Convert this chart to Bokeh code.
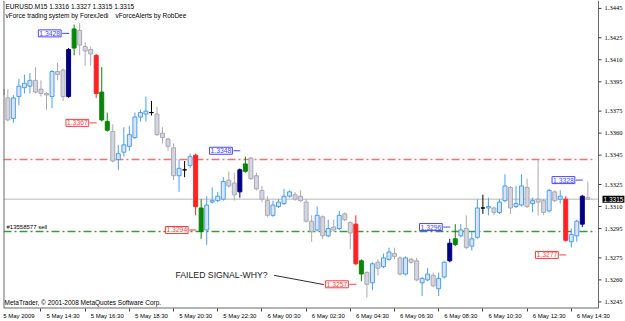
from bokeh.plotting import figure
from bokeh.models import (Range1d, LinearAxis, FixedTicker, Label, ColumnDataSource)
from bokeh.embed import file_html
from bokeh.resources import INLINE

# ---------------- data (EURUSD M15) ----------------
symbol = "EURUSD.M15"
opens = [1.3390, 1.3384, 1.3370, 1.3385, 1.3391, 1.3392, 1.3396, 1.3390, 1.3387, 1.3385,
         1.3402, 1.3403, 1.3385, 1.3418, 1.3430, 1.3419, 1.3417, 1.3413, 1.3388, 1.3368,
         1.3361, 1.3342, 1.3347, 1.3351, 1.3357, 1.3371, 1.3373, 1.3374, 1.3373, 1.3360,
         1.3356, 1.3350, 1.3331, 1.3335, 1.3338, 1.3345, 1.3309, 1.3294, 1.3313, 1.3314,
         1.3315, 1.3328, 1.3326, 1.3320, 1.3334, 1.3343, 1.3331, 1.3321, 1.3314, 1.3304,
         1.3310, 1.3312, 1.3317, 1.3318, 1.3317, 1.3313, 1.3300, 1.3294, 1.3303, 1.3290,
         1.3296, 1.3295, 1.3305, 1.3299, 1.3298, 1.3273, 1.3265, 1.3258, 1.3272, 1.3269,
         1.3274, 1.3278, 1.3275, 1.3264, 1.3274, 1.3273, 1.3258, 1.3260, 1.3263, 1.3254,
         1.3262, 1.3273, 1.3284, 1.3290, 1.3295, 1.3283, 1.3289, 1.3309, 1.3309, 1.3309,
         1.3306, 1.3314, 1.3323, 1.3310, 1.3311, 1.3323, 1.3312, 1.3315, 1.3314, 1.3307,
         1.3320, 1.3315, 1.3315, 1.3286, 1.3290, 1.3298, 1.3316]
highs = [1.3396, 1.3390, 1.3386, 1.3397, 1.3400, 1.3401, 1.3405, 1.3396, 1.3388, 1.3403,
         1.3408, 1.3404, 1.3418, 1.3434, 1.3435, 1.3422, 1.3419, 1.3414, 1.3405, 1.3374,
         1.3366, 1.3352, 1.3364, 1.3365, 1.3374, 1.3376, 1.3385, 1.3382, 1.3378, 1.3364,
         1.3357, 1.3353, 1.3342, 1.3341, 1.3346, 1.3346, 1.3315, 1.3317, 1.3323, 1.3320,
         1.3330, 1.3334, 1.3333, 1.3336, 1.3344, 1.3344, 1.3333, 1.3324, 1.3317, 1.3314,
         1.3315, 1.3322, 1.3321, 1.3320, 1.3321, 1.3315, 1.3304, 1.3310, 1.3304, 1.3301,
         1.3301, 1.3307, 1.3306, 1.3300, 1.3304, 1.3274, 1.3266, 1.3272, 1.3274, 1.3278,
         1.3282, 1.3282, 1.3276, 1.3276, 1.3275, 1.3275, 1.3262, 1.3268, 1.3265, 1.3265,
         1.3273, 1.3288, 1.3298, 1.3298, 1.3304, 1.3293, 1.3315, 1.3318, 1.3316, 1.3310,
         1.3315, 1.3332, 1.3324, 1.3324, 1.3332, 1.3329, 1.3316, 1.3342, 1.3315, 1.3322,
         1.3321, 1.3321, 1.3317, 1.3295, 1.3301, 1.3318, 1.3327]
lows = [1.3383, 1.3368, 1.3367, 1.3379, 1.3387, 1.3387, 1.3387, 1.3385, 1.3376, 1.3377,
        1.3396, 1.3382, 1.3384, 1.3413, 1.3413, 1.3406, 1.3406, 1.3384, 1.3368, 1.3361,
        1.3340, 1.3335, 1.3344, 1.3348, 1.3356, 1.3368, 1.3368, 1.3372, 1.3358, 1.3353,
        1.3348, 1.3328, 1.3320, 1.3330, 1.3336, 1.3304, 1.3288, 1.3284, 1.3312, 1.3313,
        1.3314, 1.3323, 1.3314, 1.3316, 1.3333, 1.3328, 1.3321, 1.3313, 1.3303, 1.3303,
        1.3309, 1.3311, 1.3316, 1.3314, 1.3313, 1.3299, 1.3286, 1.3293, 1.3288, 1.3289,
        1.3293, 1.3294, 1.3300, 1.3281, 1.3270, 1.3259, 1.3248, 1.3253, 1.3263, 1.3268,
        1.3273, 1.3274, 1.3263, 1.3263, 1.3271, 1.3259, 1.3249, 1.3259, 1.3255, 1.3249,
        1.3261, 1.3272, 1.3283, 1.3289, 1.3281, 1.3280, 1.3288, 1.3305, 1.3304, 1.3304,
        1.3305, 1.3313, 1.3305, 1.3309, 1.3310, 1.3309, 1.3306, 1.3304, 1.3304, 1.3306,
        1.3313, 1.3312, 1.3286, 1.3282, 1.3286, 1.3296, 1.3315]
closes = [1.3386, 1.3369, 1.3384, 1.3392, 1.3394, 1.3396, 1.3388, 1.3387, 1.3386, 1.3402,
          1.3400, 1.3385, 1.3417, 1.3431, 1.3420, 1.3416, 1.3414, 1.3387, 1.3369, 1.3362,
          1.3341, 1.3346, 1.3352, 1.3359, 1.3371, 1.3374, 1.3375, 1.3374, 1.3359, 1.3357,
          1.3351, 1.3331, 1.3336, 1.3335, 1.3344, 1.3310, 1.3293, 1.3311, 1.3314, 1.3317,
          1.3327, 1.3324, 1.3318, 1.3335, 1.3339, 1.3329, 1.3322, 1.3315, 1.3304, 1.3311,
          1.3313, 1.3317, 1.3320, 1.3315, 1.3314, 1.3300, 1.3293, 1.3304, 1.3290, 1.3295,
          1.3294, 1.3304, 1.3301, 1.3292, 1.3271, 1.3264, 1.3257, 1.3271, 1.3268, 1.3275,
          1.3279, 1.3276, 1.3264, 1.3275, 1.3272, 1.3260, 1.3261, 1.3264, 1.3256, 1.3261,
          1.3272, 1.3285, 1.3288, 1.3294, 1.3282, 1.3288, 1.3309, 1.3309, 1.3310, 1.3306,
          1.3313, 1.3324, 1.3309, 1.3312, 1.3324, 1.3310, 1.3314, 1.3313, 1.3306, 1.3321,
          1.3314, 1.3317, 1.3287, 1.3291, 1.3300, 1.3317, 1.3315]
# vForce signal bars: N = buy signal (navy), R = sell signal (red), G = follow-up (green)
kinds = [""] * len(opens)
for i in [12, 43, 81, 105]:
    kinds[i] = "N"
for i in [17, 35, 64, 102]:
    kinds[i] = "R"
for i in [13, 18, 19, 36, 44, 65, 82]:
    kinds[i] = "G"

price_ticks = [1.3445, 1.3425, 1.3410, 1.3395, 1.3375, 1.3360, 1.3345,
               1.3325, 1.3310, 1.3295, 1.3275, 1.3260, 1.3245]
time_ticks = [0, 7, 15, 23, 31, 39, 47, 55, 63, 71, 79, 87, 95, 103]
time_labels = ["5 May 2009", "5 May 14:30", "5 May 16:30", "5 May 18:30", "5 May 20:30",
               "5 May 22:30", "6 May 00:30", "6 May 02:30", "6 May 04:30", "6 May 06:30",
               "6 May 08:30", "6 May 10:30", "6 May 12:30", "6 May 14:30"]
alert_bars = [13, 18, 36, 44, 65, 82, 103, 106]
alert_prices = [1.3428, 1.3367, 1.3294, 1.3348, 1.3257, 1.3296, 1.3277, 1.3328]
alert_sides = ["buy", "sell", "sell", "buy", "sell", "buy", "sell", "buy"]
tp_level = 1.3342
order_level = 1.3293
order_text = "#13558577 sell"
note_text = "FAILED SIGNAL-WHY?"

# ---------------- styling ----------------
FONT = "Liberation Sans"
FS = "6.5px"
BULL_LINE, BULL_FILL = "#45a0f5", "#dfe3ee"
BEAR_LINE, BEAR_FILL = "#a9a9b6", "#d5d5df"
SIG = {"N": "#000080", "R": "#ff2222", "G": "#0a850a"}
BLUE_LBL, RED_LBL = "#4646ff", "#ff3c3c"
BORDER = "#6a6a6a"
BAR_PX = 5.524                 # pixels per bar
X0, X1 = 0.215, 107.93         # chart area (bars)
XR = X1 + 27 / BAR_PX          # frame extends over the price scale
Y0, Y1 = 1.32405, 1.34504

line_c, fill_c, top, bot = [], [], [], []
for o, c, k in zip(opens, closes, kinds):
    if k:
        lc = fc = SIG[k]
    elif o == c:
        lc = fc = "#000000"
    elif c > o:
        lc, fc = BULL_LINE, BULL_FILL
    else:
        lc, fc = BEAR_LINE, BEAR_FILL
    line_c.append(lc)
    fill_c.append(fc)
    top.append(max(o, c))
    bot.append(min(o, c))

src = ColumnDataSource(dict(x=list(range(len(opens))), h=highs, l=lows,
                            top=top, bot=bot, lc=line_c, fc=fill_c))

p = figure(width=625, height=321, x_range=Range1d(X0, XR), y_range=Range1d(Y0, Y1),
           x_axis_location=None, y_axis_location=None, toolbar_location=None,
           output_backend="svg", title=None,
           min_border_left=3, min_border_right=0, min_border_top=0, min_border_bottom=11,
           background_fill_color="white", border_fill_color="white",
           outline_line_color=None)
p.grid.visible = False

# horizontal levels inside the chart area
p.line(x=[X0, X1], y=[closes[-1], closes[-1]], line_color="#cfcfcf", line_width=1.5)
p.line(x=[X0, X1 - 0.5], y=[tp_level, tp_level], line_color="#ff6e6e",
       line_width=1.5, line_dash="8 3 2 3")
p.line(x=[X0, X1 - 0.5], y=[order_level, order_level], line_color="#3a9a3a",
       line_width=1.5, line_dash="8 3 2 3")

# candles
p.segment(x0="x", y0="l", x1="x", y1="h", line_color="lc", line_width=1, source=src)
p.vbar(x="x", width=0.72, top="top", bottom="bot", fill_color="fc", line_color="lc",
       line_width=1, source=src)

# chart border (left, right, bottom)
p.line(x=[X0, X0], y=[Y0, Y1], line_color=BORDER, line_width=2)
p.line(x=[X1, X1], y=[Y0, Y1], line_color=BORDER, line_width=1)
p.line(x=[X0, X1], y=[Y0, Y0], line_color=BORDER, line_width=2)

# price scale on the right
n = len(price_ticks)
p.segment(x0=[X1] * n, y0=price_ticks, x1=[X1 + 3 / BAR_PX] * n, y1=price_ticks,
          line_color="#404040", line_width=1)
p.text(x=[X1] * n, y=price_ticks, text=[f"{t:.4f}" for t in price_ticks],
       x_offset=6, text_font="Liberation Sans", text_font_size=FS,
       text_color="#000000", text_align="left", text_baseline="middle")

# current bid box
p.add_layout(Label(x=X1, y=closes[-1], x_offset=4, text=f"{closes[-1]:.4f}",
                   text_font=FONT, text_font_size=FS, text_color="white",
                   text_align="left", text_baseline="middle",
                   background_fill_color="#000000", padding=1))

# time axis: tick marks at the bars, labels left-aligned after them
label_pos = [3] + [t + 4 for t in time_ticks[1:]]
xax = LinearAxis(ticker=FixedTicker(ticks=label_pos, minor_ticks=time_ticks),
                 major_label_overrides={k: s for k, s in zip(label_pos, time_labels)},
                 major_label_text_font=FONT, major_label_text_font_size="6px",
                 major_label_text_color="#000000", major_label_standoff=1,
                 major_tick_out=0, major_tick_in=0, minor_tick_out=3, minor_tick_in=0,
                 minor_tick_line_color="#404040", axis_line_color=None)
p.add_layout(xax, "below")

# header
hdr = f"{symbol}  {opens[-1]:.4f} {highs[-1]:.4f} {lows[-1]:.4f} {closes[-1]:.4f}"
p.add_layout(Label(x=X0, y=Y1, x_offset=2, y_offset=-2, text=hdr, text_font=FONT,
                   text_font_size=FS, text_color="#000000", text_baseline="top"))
p.add_layout(Label(x=X0, y=Y1, x_offset=2, y_offset=-11,
                   text="vForce trading system by ForexJedi", text_font=FONT,
                   text_font_size=FS, text_color="#000000", text_baseline="top"))
p.add_layout(Label(x=X0, y=Y1, x_offset=112, y_offset=-11,
                   text="vForceAlerts by RobDee", text_font=FONT,
                   text_font_size=FS, text_color="#000000", text_baseline="top"))
p.add_layout(Label(x=X0, y=Y0, x_offset=1, y_offset=6,
                   text="MetaTrader, \u00a9 2001-2008 MetaQuotes Software Corp.",
                   text_font=FONT, text_font_size=FS, text_color="#000000",
                   text_baseline="middle"))

# order line label
p.add_layout(Label(x=X0, y=order_level, x_offset=3, y_offset=1, text=order_text,
                   text_font=FONT, text_font_size="6px", text_color="#000000",
                   text_baseline="bottom"))

# alert price labels
for b, pr, sd in zip(alert_bars, alert_prices, alert_sides):
    col = BLUE_LBL if sd == "buy" else RED_LBL
    p.add_layout(Label(x=b, y=pr, x_offset=-13, text=f"{pr:.4f}", text_font=FONT,
                       text_font_size="6.8px", text_color=col, text_align="right",
                       text_baseline="middle", background_fill_color="white",
                       border_line_color=col, border_line_width=1, padding=1))
    p.line(x=[b - 12 / BAR_PX, b - 5 / BAR_PX], y=[pr, pr], line_color=col, line_width=1)

# annotation
note_y = 1.32631
p.add_layout(Label(x=31.35, y=note_y, text=note_text, text_font=FONT,
                   text_font_size="8.7px", text_color="#202020", text_baseline="middle"))
p.line(x=[49.2, 58.2], y=[note_y, 1.32568], line_color="#303030", line_width=1)

open("out.html", "w").write(file_html(p, INLINE))
